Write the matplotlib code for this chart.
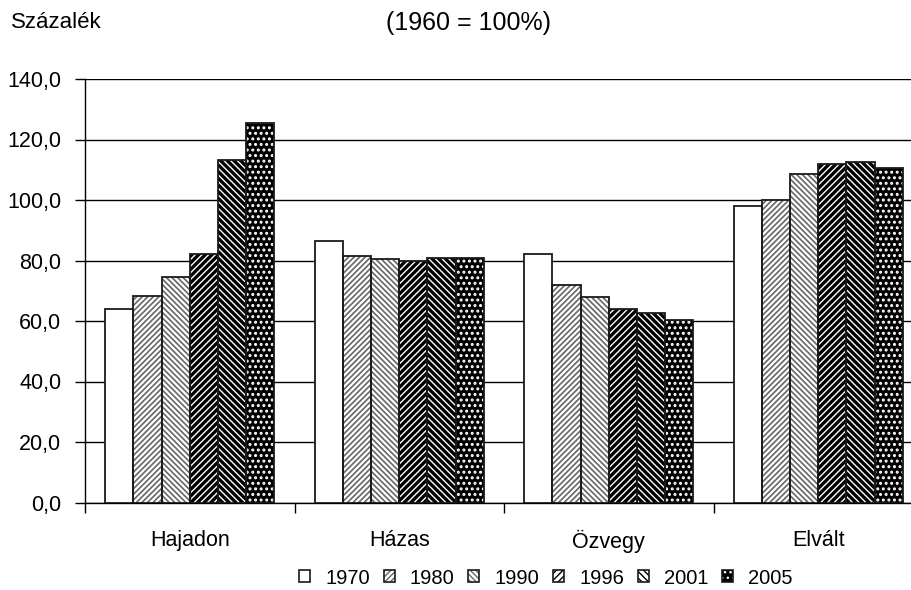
import matplotlib
matplotlib.use("Agg")
import matplotlib.pyplot as plt
from matplotlib.patches import Patch
from matplotlib.legend_handler import HandlerTuple
import numpy as np

plt.rcParams['font.family'] = ['Liberation Sans', 'DejaVu Sans']

categories = ["Hajadon", "Házas", "Özvegy", "Elvált"]
years = ["1970", "1980", "1990", "1996", "2001", "2005"]
v1970 = [64.0, 86.5, 82.1, 98.0]
v1980 = [68.1, 81.4, 72.0, 100.0]
v1990 = [74.6, 80.6, 68.0, 108.7]
v1996 = [82.1, 80.0, 64.0, 112.0]
v2001 = [113.2, 80.7, 62.8, 112.6]
v2005 = [125.3, 80.7, 60.2, 110.6]
series = [v1970, v1980, v1990, v1996, v2001, v2005]
yticks = [0, 20, 40, 60, 80, 100, 120, 140]

# style per series: (face, hatch, hatch colour, hatch linewidth)
styles = [
    ("white", "", "white", 1.0),
    ("white", "//////", "#666666", 1.2),
    ("white", "\\\\\\\\\\\\", "#666666", 1.2),
    ("white", "/////", "black", 2.4),
    ("white", "\\\\\\\\\\", "black", 2.4),
    ("black", "...", "white", 1.4),
]

fig = plt.figure(figsize=(9.11, 5.90), dpi=100)
ax = fig.add_axes([85/911, (590-502.5)/590, 838/911, (502.5-79)/590])

x = np.arange(len(categories)) + 0.5
w = 0.1346
handles = []
for j, (vals, st) in enumerate(zip(series, styles)):
    face, hatch, hcol, hlw = st
    pos = x + (j - 2.5) * w
    with plt.rc_context({'hatch.linewidth': hlw}):
        b1 = ax.bar(pos, vals, width=w, color=face, hatch=hatch, edgecolor=hcol,
                    linewidth=0, zorder=3)
        for p in b1:
            if hasattr(p, "set_hatch_linewidth"):
                p.set_hatch_linewidth(hlw)
        ax.bar(pos, vals, width=w, color="none", edgecolor="#1a1a1a",
               linewidth=1.3, zorder=4)
        h1 = Patch(facecolor=face, hatch=hatch, edgecolor=hcol, linewidth=0)
        if hasattr(h1, "set_hatch_linewidth"):
            h1.set_hatch_linewidth(hlw)
    h2 = Patch(facecolor="none", edgecolor="#1a1a1a", linewidth=1.2)
    handles.append((h1, h2))

ax.set_xlim(0, 4)
ax.set_ylim(0, 140)
ax.set_yticks(yticks)
ax.set_yticklabels([f"{t:.1f}".replace(".", ",") for t in yticks])
ax.yaxis.grid(True, color="black", linewidth=1.0, zorder=0)
ax.set_axisbelow(True)

ax.set_xticks(x)
ax.set_xticklabels(categories)
ax.set_xticks(np.arange(0, 5), minor=True)
ax.tick_params(axis="x", which="major", length=0, pad=20, labelsize=15.5)
ax.tick_params(axis="x", which="minor", length=7, direction="out", width=1.0)
ax.tick_params(axis="y", length=7, direction="out", width=1.0, pad=10, labelsize=15.5)

for s in ["top", "right"]:
    ax.spines[s].set_visible(False)
for s in ["left", "bottom"]:
    ax.spines[s].set_linewidth(1.0)
    ax.spines[s].set_color("black")

fig.text(11/911, 1 - 23/590, "Százalék", ha="left", va="center", fontsize=16)
fig.text(469/911, 1 - 23/590, "(1960 = 100%)", ha="center", va="center", fontsize=18)

leg = fig.legend(handles, years, loc="center", bbox_to_anchor=(546/911, 12/590),
                 ncol=6, frameon=False, fontsize=14.5,
                 handler_map={tuple: HandlerTuple(ndivide=1, pad=0)},
                 handlelength=0.55, handleheight=0.55, handletextpad=0.75,
                 columnspacing=0.68, borderpad=0, borderaxespad=0)

fig.savefig("out.png", dpi=100)
